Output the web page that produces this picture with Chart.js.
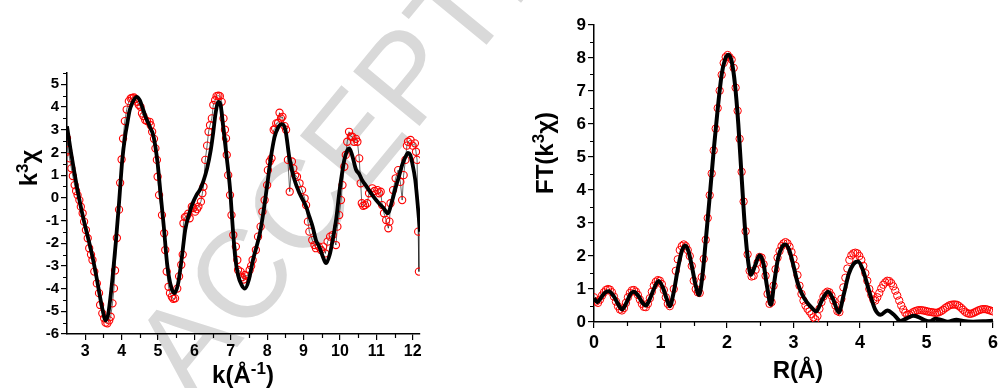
<!DOCTYPE html>
<html>
<head>
<meta charset="utf-8">
<title>EXAFS fits</title>
<script src="https://cdn.jsdelivr.net/npm/chart.js@4.4.1/dist/chart.umd.min.js"></script>
<style>
  body { margin: 0; background: #fff; }
  #wrap { position: relative; width: 1002px; height: 388px; overflow: hidden; }
  #stamp {
    position: absolute; left: 0; top: 0; white-space: nowrap;
    font: 125px/1 "Liberation Sans", Arial, sans-serif; color: #d9d9d9;
    transform-origin: 0 0;
    transform: translate(192px, 402px) rotate(-50.5deg) translate(0, -106px);
  }
  canvas { position: absolute; top: 0; }
  #kspace { left: 0; }
  #rspace { left: 500px; }
</style>
</head>
<body>
<div id="wrap">
  <div id="stamp">ACCEPTED MANUSCRIPT</div>
  <canvas id="kspace" width="500" height="388"></canvas>
  <canvas id="rspace" width="502" height="388"></canvas>
</div>
<script>
// k-space: measured k3chi (red circles)
const kData = [
  2.50, 2.53, 2.57, 2.62, 2.66, 2.71, 2.75, 2.79, 2.84, 2.88,
  2.93, 2.97, 3.02, 3.07, 3.11, 3.16, 3.20, 3.25, 3.32, 3.38,
  3.41, 3.47, 3.52, 3.56, 3.61, 3.66, 3.70, 3.75, 3.79, 3.82,
  3.87, 3.93, 3.96, 4.00, 4.04, 4.09, 4.14, 4.20, 4.25, 4.29,
  4.34, 4.38, 4.43, 4.47, 4.52, 4.56, 4.60, 4.65, 4.70, 4.77,
  4.80, 4.84, 4.89, 4.93, 4.97, 4.99, 5.03, 5.11, 5.17, 5.20,
  5.24, 5.29, 5.33, 5.38, 5.42, 5.47, 5.53, 5.58, 5.64, 5.68,
  5.70, 5.74, 5.78, 5.83, 5.87, 5.93, 5.97, 6.02, 6.07, 6.11,
  6.18, 6.22, 6.25, 6.30, 6.35, 6.39, 6.43, 6.48, 6.52, 6.57,
  6.61, 6.66, 6.70, 6.75, 6.80, 6.84, 6.87, 6.89, 6.93, 6.98,
  7.02, 7.07, 7.14, 7.18, 7.20, 7.27, 7.31, 7.35, 7.39, 7.45,
  7.52, 7.56, 7.60, 7.69, 7.75, 7.82, 7.87, 7.93, 8.00, 8.02,
  8.07, 8.12, 8.18, 8.22, 8.25, 8.30, 8.34, 8.38, 8.42, 8.48,
  8.52, 8.57, 8.62, 8.68, 8.72, 8.77, 8.82, 8.89, 8.96, 9.03,
  9.07, 9.12, 9.16, 9.24, 9.30, 9.34, 9.42, 9.48, 9.54, 9.60,
  9.66, 9.73, 9.80, 9.89, 9.93, 9.98, 10.03, 10.07, 10.12, 10.16,
  10.20, 10.25, 10.30, 10.34, 10.39, 10.44, 10.48, 10.53, 10.57, 10.60,
  10.64, 10.69, 10.75, 10.80, 10.89, 10.95, 11.03, 11.08, 11.12, 11.16,
  11.21, 11.27, 11.33, 11.36, 11.39, 11.46, 11.53, 11.60, 11.66, 11.71,
  11.75, 11.80, 11.84, 11.87, 11.94, 12.00, 12.06, 12.09, 12.12, 12.15, 12.17
];
const chiData = [
  2.63, 2.1, 1.74, 1.3, 0.96, 0.56, 0.3, 0.12, -0.1, -0.39,
  -0.68, -1.05, -1.42, -1.78, -2.22, -2.5, -2.74, -3.25, -3.77, -4.2,
  -4.72, -5.09, -5.31, -5.5, -5.53, -5.4, -5.24, -4.65, -3.99, -3.2,
  -1.77, -0.52, 0.66, 1.69, 2.61, 3.38, 3.89, 4.26, 4.38, 4.4,
  4.42, 4.35, 4.23, 4.1, 4.01, 3.72, 3.6, 3.43, 3.38, 3.35,
  3.2, 2.91, 2.6, 2.18, 1.67, 0.93, 0.12, -0.76, -1.56, -2.3,
  -3.25, -3.92, -4.2, -4.36, -4.45, -4.43, -4.0, -3.46, -2.95, -2.5,
  -1.12, -0.85, -0.83, -0.7, -0.9, -0.39, -0.45, -0.61, -0.5, -0.39,
  -0.17, 0.2, 0.49, 1.67, 2.3, 2.91, 3.2, 3.5, 4.09, 4.3,
  4.48, 4.5, 4.48, 4.23, 3.5, 3.0, 2.62, 1.89, 1.0, 0.12,
  -0.76, -1.64, -2.15, -2.74, -3.18, -3.25, -3.5, -3.6, -3.4, -3.45,
  -3.18, -3.0, -2.74, -2.3, -1.71, -1.27, -0.61, -0.1, 0.56, 1.22,
  1.6, 1.74, 3.0, 3.05, 3.28, 3.3, 3.75, 3.5, 3.57, 3.16,
  3.0, 1.67, 0.27, 1.6, 1.3, 1.0, 0.93, 0.64, 0.34, -0.02,
  -0.32, -1.05, -1.49, -1.86, -2.08, -2.22, -2.15, -2.3, -2.15, -2.45,
  -1.93, -1.71, -1.64, -2.08, -1.27, -0.76, -0.1, 0.56, 1.37, 1.89,
  2.47, 2.91, 2.7, 2.69, 2.47, 2.6, 2.47, 1.74, 0.64, -0.24,
  -0.35, -0.32, -0.24, 0.2, 0.42, 0.3, 0.34, 0.2, 0.27, -0.32,
  -0.68, -0.98, -1.34, -1.05, -0.24, 0.34, 0.86, 1.22, 0.7, -0.1,
  1.0, 1.67, 2.3, 2.47, 2.55, 2.3, 2.4, 2.03, 1.67, -1.49, -3.25
];

// k-space: fit (thick black)
const kFit = [
  2.5, 2.6, 2.7, 2.8, 2.9, 3.0, 3.1, 3.2, 3.3, 3.4,
  3.48, 3.56, 3.63, 3.7, 3.77, 3.84, 3.93, 4.02, 4.1, 4.16,
  4.22, 4.29, 4.41, 4.5, 4.58, 4.66, 4.77, 4.88, 4.99, 5.07,
  5.16, 5.25, 5.36, 5.45, 5.55, 5.65, 5.75, 5.85, 5.95, 6.05,
  6.15, 6.25, 6.35, 6.45, 6.52, 6.58, 6.66, 6.72, 6.78, 6.88,
  6.98, 7.05, 7.12, 7.2, 7.3, 7.39, 7.5, 7.61, 7.7, 7.8,
  7.9, 8.0, 8.1, 8.2, 8.3, 8.41, 8.5, 8.62, 8.75, 8.89,
  9.07, 9.16, 9.25, 9.34, 9.43, 9.52, 9.62, 9.72, 9.8, 9.9,
  9.98, 10.05, 10.12, 10.2, 10.26, 10.34, 10.44, 10.53, 10.62, 10.71,
  10.89, 11.07, 11.2, 11.31, 11.44, 11.53, 11.62, 11.72, 11.8, 11.87,
  11.93, 11.98, 12.07, 12.15, 12.2
];
const chiFit = [
  3.15, 2.1, 1.15, 0.25, -0.55, -1.25, -1.9, -2.6, -3.4, -4.3,
  -4.95, -5.4, -5.15, -4.3, -3.2, -1.99, -0.22, 1.69, 2.75, 3.3,
  3.85, 4.16, 4.45, 4.3, 3.95, 3.57, 3.15, 2.69, 1.52, 0.2,
  -1.27, -2.89, -3.92, -4.2, -3.8, -2.7, -1.4, -0.75, -0.25, 0.1,
  0.35, 0.75, 1.3, 2.1, 2.9, 3.7, 4.23, 4.1, 3.3, 1.9,
  0.4, -1.2, -2.6, -3.4, -3.85, -4.0, -3.6, -2.74, -2.2, -1.57,
  -0.6, 0.55, 1.75, 2.65, 3.1, 3.25, 3.0, 1.67, 0.8, 0.2,
  -0.39, -0.83, -1.27, -1.86, -2.15, -2.55, -2.88, -2.5, -1.86, -0.9,
  0.2, 1.0, 1.67, 2.08, 2.18, 1.85, 1.25, 1.05, 0.75, 0.55,
  0.12, -0.24, -0.45, -0.68, -0.1, 0.45, 0.93, 1.5, 1.8, 1.98,
  1.9, 1.59, 0.78, -0.54, -1.5
];

// R-space: measured |FT| on a 0.03 A grid from 0 to 6 (red circles)
const rStep = 0.03;
const ftData = [
  0.75, 0.62, 0.58, 0.68, 0.8, 0.9, 0.97, 1.0, 0.98, 0.9,
  0.77, 0.62, 0.48, 0.38, 0.35, 0.42, 0.58, 0.75, 0.88, 0.96,
  0.97, 0.92, 0.82, 0.68, 0.55, 0.46, 0.45, 0.55, 0.72, 0.92,
  1.1, 1.22, 1.27, 1.25, 1.15, 0.97, 0.75, 0.55, 0.48, 0.6,
  1.0, 1.55, 1.9, 2.18, 2.3, 2.35, 2.3, 2.18, 2.0, 1.7,
  1.25, 1.0, 0.9, 0.88, 1.36, 1.91, 2.49, 3.15, 3.84, 4.5,
  5.2, 5.86, 6.48, 7.01, 7.49, 7.85, 8.03, 8.09, 8.02, 7.95,
  7.7, 7.1, 6.4, 5.55, 4.55, 3.65, 2.75, 2.05, 1.55, 1.38,
  1.4, 1.58, 1.8, 1.97, 1.95, 1.75, 1.4, 0.85, 0.55, 0.6,
  1.1, 1.6, 1.95, 2.15, 2.3, 2.38, 2.42, 2.38, 2.28, 2.12,
  1.92, 1.7, 1.42, 1.1, 0.85, 0.65, 0.5, 0.4, 0.32, 0.24,
  0.14, 0.08, 0.18, 0.4, 0.6, 0.77, 0.87, 0.92, 0.9, 0.8,
  0.65, 0.5, 0.33, 0.3, 0.7, 1.05, 1.34, 1.62, 1.88, 2.02,
  2.08, 2.1, 2.08, 2.0, 1.88, 1.7, 1.48, 1.25, 1.0, 0.82,
  0.68, 0.65, 0.75, 0.88, 1.02, 1.13, 1.2, 1.25, 1.24, 1.18,
  1.08, 0.95, 0.8, 0.65, 0.5, 0.38, 0.28, 0.22, 0.22, 0.26,
  0.3, 0.33, 0.35, 0.36, 0.36, 0.35, 0.34, 0.32, 0.31, 0.3,
  0.29, 0.28, 0.28, 0.3, 0.33, 0.37, 0.42, 0.46, 0.5, 0.52,
  0.53, 0.53, 0.52, 0.48, 0.43, 0.37, 0.31, 0.27, 0.25, 0.25,
  0.27, 0.3, 0.33, 0.36, 0.38, 0.39, 0.39, 0.38, 0.36, 0.34,
  0.32
];

// R-space: fit (thick black)
const rFit = [
  0, 0.05, 0.1, 0.16, 0.22, 0.29, 0.36, 0.42, 0.48, 0.55,
  0.6, 0.67, 0.73, 0.78, 0.84, 0.9, 0.97, 1.04, 1.09, 1.14,
  1.2, 1.26, 1.32, 1.37, 1.42, 1.48, 1.53, 1.58, 1.63, 1.68,
  1.74, 1.8, 1.86, 1.92, 1.97, 2.02, 2.07, 2.12, 2.17, 2.22,
  2.27, 2.32, 2.36, 2.42, 2.49, 2.55, 2.6, 2.66, 2.71, 2.77,
  2.83, 2.88, 2.94, 3.0, 3.06, 3.12, 3.2, 3.28, 3.34, 3.43,
  3.52, 3.6, 3.68, 3.76, 3.83, 3.9, 3.97, 4.04, 4.1, 4.16,
  4.23, 4.31, 4.41, 4.51, 4.61, 4.71, 4.8, 4.88, 4.98, 5.05,
  5.13, 5.22, 5.32, 5.45, 5.55, 5.7, 5.85, 6.0
];
const ftFit = [
  0.72, 0.6, 0.72, 0.88, 0.93, 0.8, 0.55, 0.38, 0.55, 0.85,
  0.92, 0.78, 0.58, 0.5, 0.7, 1.0, 1.24, 1.02, 0.72, 0.48,
  0.92, 1.6, 2.15, 2.32, 2.15, 1.6, 1.1, 0.82, 1.4, 2.45,
  3.8, 5.2, 6.45, 7.5, 7.95, 8.1, 7.9, 7.2, 6.0, 4.4,
  2.85, 1.8, 1.43, 1.7, 2.02, 1.75, 1.1, 0.52, 1.2, 1.95,
  2.28, 2.35, 2.15, 1.7, 1.2, 0.88, 0.6, 0.42, 0.32, 0.67,
  0.92, 0.67, 0.29, 0.87, 1.45, 1.75, 1.83, 1.6, 1.2, 0.78,
  0.37, 0.22, 0.35, 0.22, 0.03, 0.12, 0.19, 0.15, 0.05, 0.02,
  0.1, 0.06, 0.01, 0.07, 0.03, 0.01, 0.02, 0.04
];

const FONT = '"Liberation Sans", Arial, sans-serif';
Chart.defaults.font.family = FONT;
Chart.defaults.font.weight = 'bold';
Chart.defaults.color = '#000';

// short ticks halfway between the labelled ones
const minorTicks = {
  id: 'minorTicks',
  afterDraw(chart) {
    const ctx = chart.ctx;
    const xs = chart.scales.x, ys = chart.scales.y;
    ctx.save();
    ctx.strokeStyle = '#000';
    ctx.lineWidth = 1.2;
    ctx.beginPath();
    for (let v = Math.floor(xs.min) + 0.5; v < xs.max; v += 1) {
      if (v <= xs.min) continue;
      const px = Math.round(xs.getPixelForValue(v)) + 0.5;
      ctx.moveTo(px, xs.top);
      ctx.lineTo(px, xs.top + 4);
    }
    for (let v = Math.floor(ys.min) + 0.5; v <= ys.max; v += 1) {
      const py = Math.round(ys.getPixelForValue(v)) + 0.5;
      ctx.moveTo(ys.right, py);
      ctx.lineTo(ys.right - 4, py);
    }
    ctx.stroke();
    ctx.restore();
  }
};

// axis titles with real superscripts
const axisTitles = {
  id: 'axisTitles',
  afterDraw(chart, args, opts) {
    const ctx = chart.ctx;
    opts.items.forEach(item => {
      ctx.save();
      ctx.translate(item.x, item.y);
      ctx.rotate(item.rot || 0);
      ctx.fillStyle = '#000';
      ctx.textBaseline = 'alphabetic';
      let w = 0;
      item.parts.forEach(p => {
        ctx.font = 'bold ' + p.size + 'px ' + FONT;
        p.w = ctx.measureText(p.text).width;
        w += p.w;
      });
      let cx = -w / 2;
      item.parts.forEach(p => {
        ctx.font = 'bold ' + p.size + 'px ' + FONT;
        ctx.fillText(p.text, cx, -(p.rise || 0));
        cx += p.w;
      });
      ctx.restore();
    });
  }
};

function axis(min, max, size, fitSize, isX, pad) {
  return {
    type: 'linear',
    min: min,
    max: max,
    afterFit: s => { if (isX) s.height = fitSize; else s.width = fitSize; },
    border: { display: true, color: '#000', width: 1.5 },
    grid: { drawOnChartArea: false, color: '#000', lineWidth: 1.2, tickLength: 6 },
    ticks: { stepSize: 1, includeBounds: false, autoSkip: false, maxRotation: 0, padding: pad, font: { size: size } }
  };
}

const kChart = new Chart(document.getElementById('kspace'), {
  type: 'line',
  data: {
    datasets: [{
      label: 'fit',
      data: kFit.map((k, i) => ({ x: k, y: chiFit[i] })),
      borderColor: '#000',
      borderWidth: 3.8,
      pointRadius: 0,
      cubicInterpolationMode: 'monotone',
      order: 0
    }, {
      label: 'data',
      data: kData.map((k, i) => ({ x: k, y: chiData[i] })),
      borderColor: '#000',
      borderWidth: 0.6,
      pointRadius: 3.6,
      pointBorderColor: '#ff0000',
      pointBackgroundColor: 'rgba(255,255,255,0)',
      pointBorderWidth: 1.1,
      order: 1
    }]
  },
  options: {
    responsive: false,
    animation: false,
    events: [],
    layout: { padding: { top: 73, right: 80, left: 0, bottom: 0 } },
    scales: {
      x: axis(2.5, 12.2, 16, 54, true, 2),
      y: axis(-6, 5.5, 15, 67, false, 2)
    },
    plugins: {
      legend: { display: false },
      tooltip: { enabled: false },
      axisTitles: {
        items: [
          { x: 37, y: 168, rot: -Math.PI / 2, parts: [
            { text: 'k', size: 24 }, { text: '3', size: 17, rise: 9 }, { text: '\u03c7', size: 24 }] },
          { x: 243, y: 383, parts: [
            { text: 'k(\u00c5', size: 24 }, { text: '-1', size: 17, rise: 9 }, { text: ')', size: 24 }] }
        ]
      }
    }
  },
  plugins: [minorTicks, axisTitles]
});

const rChart = new Chart(document.getElementById('rspace'), {
  type: 'line',
  data: {
    datasets: [{
      label: 'fit',
      data: rFit.map((r, i) => ({ x: r, y: ftFit[i] })),
      borderColor: '#000',
      borderWidth: 4,
      pointRadius: 0,
      cubicInterpolationMode: 'monotone',
      order: 0
    }, {
      label: 'data',
      data: ftData.map((v, i) => ({ x: +(i * rStep).toFixed(2), y: v })),
      showLine: false,
      pointRadius: 3.7,
      pointBorderColor: '#ff0000',
      pointBackgroundColor: 'rgba(255,255,255,0)',
      pointBorderWidth: 1,
      order: 1
    }]
  },
  options: {
    responsive: false,
    animation: false,
    events: [],
    layout: { padding: { top: 25, right: 5, left: 0, bottom: 0 } },
    scales: {
      x: axis(0, 6, 18, 66, true, 4),
      y: axis(0, 9, 17, 94, false, 2)
    },
    plugins: {
      legend: { display: false },
      tooltip: { enabled: false },
      axisTitles: {
        items: [
          { x: 53, y: 153, rot: -Math.PI / 2, parts: [
            { text: 'FT(k', size: 24 }, { text: '3', size: 17, rise: 9 }, { text: '\u03c7)', size: 24 }] },
          { x: 298, y: 378, parts: [
            { text: 'R(\u00c5)', size: 24 }] }
        ]
      }
    }
  },
  plugins: [minorTicks, axisTitles]
});
</script>
</body>
</html>
